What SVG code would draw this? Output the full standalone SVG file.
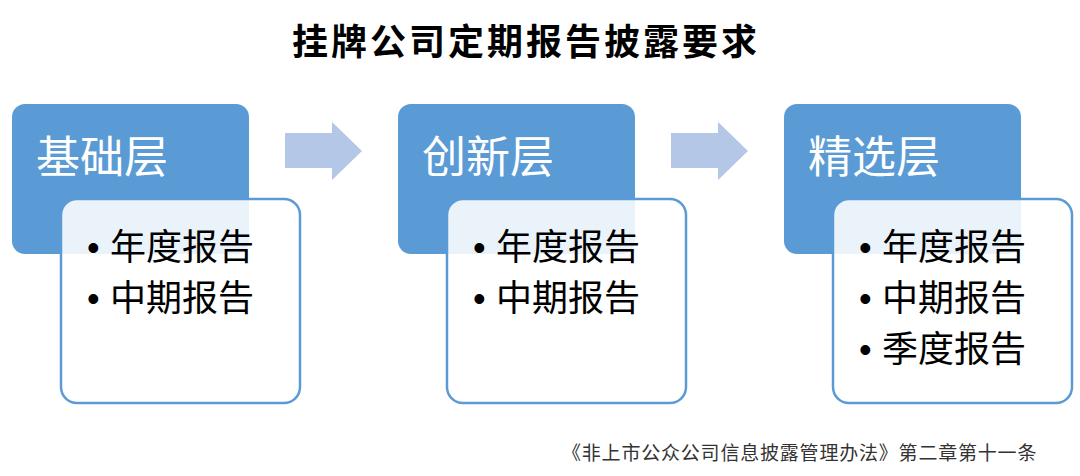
<svg xmlns="http://www.w3.org/2000/svg" width="1080" height="476" viewBox="0 0 1080 476">
<style>
.t{font-family:"Noto Sans CJK SC",sans-serif;}
.hd{fill:#5b9bd5;}
.bd{fill:#ffffff;fill-opacity:0.88;stroke:#5b9bd5;stroke-width:2.5;}
.ar{fill:#b4c7e7;}
.h{font-size:44px;fill:#ffffff;}
.b{font-size:36px;fill:#000000;}
.dot{font-family:"Liberation Sans",sans-serif;font-size:36px;}
</style>
<rect width="1080" height="476" fill="#ffffff"/>
<text class="t" x="526" y="55" font-size="36" font-weight="bold" text-anchor="middle" letter-spacing="3">挂牌公司定期报告披露要求</text>
<g id="connectors">
<polygon class="ar" points="285,133 332,133 332,122 362,151 332,180 332,168 285,168"/>
<polygon class="ar" points="671,133 718,133 718,122 748,151 718,180 718,168 671,168"/>
</g>
<g id="node-basic">
<rect class="hd" x="12" y="104" width="237" height="150" rx="13"/>
<text class="t h" x="36" y="173">基础层</text>
<rect class="bd" x="61" y="199" width="239" height="204" rx="16"/>
<text class="t b" y="260"><tspan class="dot" x="87">•</tspan><tspan x="110">年度报告</tspan></text>
<text class="t b" y="311"><tspan class="dot" x="87">•</tspan><tspan x="110">中期报告</tspan></text>
</g>
<g id="node-innovation">
<rect class="hd" x="398" y="104" width="237" height="150" rx="13"/>
<text class="t h" x="422" y="173">创新层</text>
<rect class="bd" x="447" y="199" width="239" height="204" rx="16"/>
<text class="t b" y="260"><tspan class="dot" x="473">•</tspan><tspan x="496">年度报告</tspan></text>
<text class="t b" y="311"><tspan class="dot" x="473">•</tspan><tspan x="496">中期报告</tspan></text>
</g>
<g id="node-select">
<rect class="hd" x="784" y="104" width="237" height="150" rx="13"/>
<text class="t h" x="808" y="173">精选层</text>
<rect class="bd" x="833" y="199" width="239" height="204" rx="16"/>
<text class="t b" y="260"><tspan class="dot" x="859">•</tspan><tspan x="882">年度报告</tspan></text>
<text class="t b" y="311"><tspan class="dot" x="859">•</tspan><tspan x="882">中期报告</tspan></text>
<text class="t b" y="362"><tspan class="dot" x="859">•</tspan><tspan x="882">季度报告</tspan></text>
</g>
<text class="t" x="562" y="460" font-size="19" fill="#333333" letter-spacing="0.8">《非上市公众公司信息披露管理办法》第二章第十一条</text>
</svg>
